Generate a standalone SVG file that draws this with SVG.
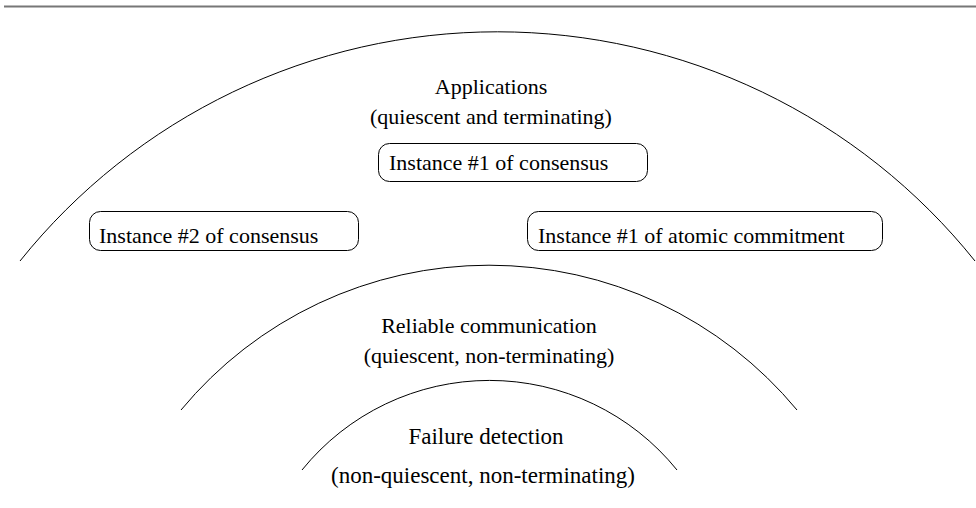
<svg xmlns="http://www.w3.org/2000/svg" width="976" height="508" viewBox="0 0 976 508">
<style>
.arc{fill:none;stroke:#000;stroke-width:1}
.box{fill:#fff;stroke:#000;stroke-width:1}
.c{text-anchor:middle}
</style>
<rect x="0" y="0" width="976" height="508" fill="#fff"/>
<line x1="4" y1="6.5" x2="976" y2="6.5" stroke="#777" stroke-width="2"/>
<g id="connectors">
<path class="arc" d="M 20 261 A 612 612 0 0 1 975 261"/>
<path class="arc" d="M 181 410 A 400 400 0 0 1 797 410"/>
<path class="arc" d="M 302 470 A 241 241 0 0 1 677 470"/>
</g>
<g font-family="'Liberation Serif', 'Times New Roman', 'DejaVu Serif', serif" font-size="22" fill="#000">
<g id="applications">
<text class="c" x="491" y="94">Applications</text>
<text class="c" x="491" y="124">(quiescent and terminating)</text>
</g>
<g id="consensus1">
<rect class="box" x="378.5" y="143.5" width="269" height="38" rx="11"/>
<text x="389" y="170">Instance #1 of consensus</text>
</g>
<g id="consensus2">
<rect class="box" x="89.5" y="211.5" width="269" height="39" rx="11"/>
<text x="99" y="243">Instance #2 of consensus</text>
</g>
<g id="atomic1">
<rect class="box" x="527.5" y="211.5" width="355" height="39" rx="11"/>
<text x="538" y="243">Instance #1 of atomic commitment</text>
</g>
<g id="reliable">
<text class="c" x="489" y="333">Reliable communication</text>
<text class="c" x="489" y="363">(quiescent, non-terminating)</text>
</g>
<g id="failure" font-size="23">
<text class="c" x="486" y="444">Failure detection</text>
<text class="c" x="483" y="483">(non-quiescent, non-terminating)</text>
</g>
</g>
</svg>
